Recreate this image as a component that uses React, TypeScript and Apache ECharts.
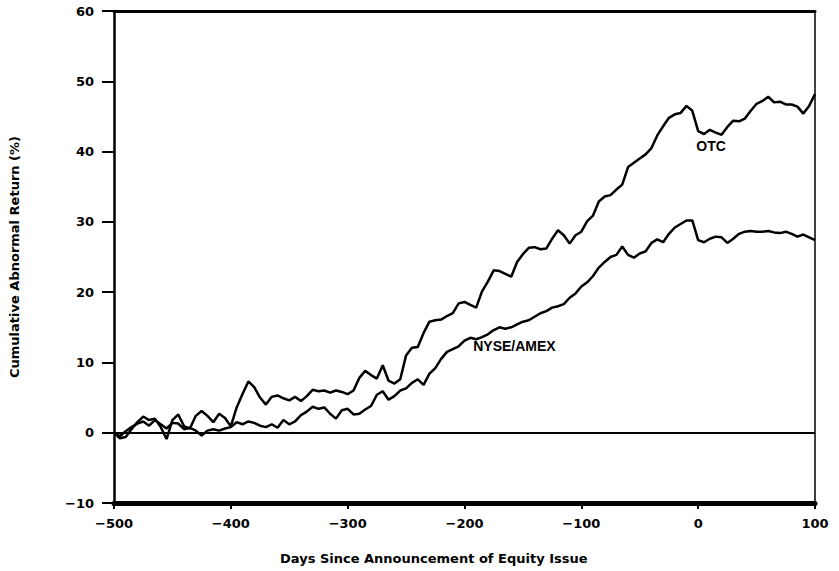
import React, { useEffect, useRef } from "react";
import * as echarts from "echarts";

// Days relative to the announcement (sample points, every 5 days)
const days = [
  -500, -495, -490, -485, -480, -475, -470, -465, -460, -455, -450, -445, -440, -435, -430, -425, -420, -415, -410, -405,
  -400, -395, -390, -385, -380, -375, -370, -365, -360, -355, -350, -345, -340, -335, -330, -325, -320, -315, -310, -305,
  -300, -295, -290, -285, -280, -275, -270, -265, -260, -255, -250, -245, -240, -235, -230, -225, -220, -215, -210, -205,
  -200, -195, -190, -185, -180, -175, -170, -165, -160, -155, -150, -145, -140, -135, -130, -125, -120, -115, -110, -105,
  -100, -95, -90, -85, -80, -75, -70, -65, -60, -55, -50, -45, -40, -35, -30, -25, -20, -15, -10, -5,
  0, 5, 10, 15, 20, 25, 30, 35, 40, 45, 50, 55, 60, 65, 70, 75, 80, 85, 90, 95, 100,
];

// Cumulative abnormal return (%) - OTC
const otc = [
  0.0, -0.8, -0.6, 0.5, 1.5, 2.3, 1.8, 2.0, 0.8, -0.9, 1.8, 2.6, 0.9, 0.6, 2.4, 3.1, 2.4, 1.5, 2.7, 2.1,
  0.9, 3.6, 5.5, 7.3, 6.5, 5.0, 4.0, 5.1, 5.3, 4.9, 4.6, 5.1, 4.5, 5.2, 6.1, 5.9, 6.0, 5.7, 6.0, 5.8,
  5.5, 6.0, 7.8, 8.8, 8.2, 7.7, 9.6, 7.4, 7.0, 7.6, 11.0, 12.1, 12.2, 14.2, 15.8, 16.0, 16.1, 16.6, 17.0, 18.4,
  18.6, 18.2, 17.8, 20.1, 21.5, 23.1, 23.0, 22.6, 22.2, 24.3, 25.4, 26.3, 26.4, 26.1, 26.2, 27.6, 28.8, 28.1, 26.9, 28.1,
  28.6, 30.1, 30.9, 32.9, 33.6, 33.8, 34.6, 35.3, 37.8, 38.4, 39.0, 39.6, 40.5, 42.3, 43.6, 44.8, 45.3, 45.5, 46.5, 45.8,
  42.9, 42.5, 43.1, 42.7, 42.4, 43.5, 44.4, 44.3, 44.7, 45.8, 46.8, 47.2, 47.8, 47.0, 47.1, 46.7, 46.7, 46.4, 45.4, 46.5, 48.2,
];

// Cumulative abnormal return (%) - NYSE/AMEX
const nyseAmex = [
  0.0, -0.5, 0.2, 0.8, 1.3, 1.6, 1.0, 1.8, 1.2, 0.6, 1.4, 1.3, 0.5, 0.7, 0.3, -0.4, 0.3, 0.5, 0.3, 0.6,
  0.8, 1.5, 1.2, 1.6, 1.4, 1.0, 0.8, 1.2, 0.7, 1.8, 1.2, 1.6, 2.5, 3.0, 3.7, 3.4, 3.6, 2.7, 2.0, 3.2,
  3.4, 2.6, 2.7, 3.3, 3.8, 5.4, 5.9, 4.7, 5.2, 6.0, 6.3, 7.1, 7.6, 6.8, 8.4, 9.2, 10.5, 11.5, 11.9, 12.3,
  13.1, 13.5, 13.3, 13.6, 14.0, 14.6, 15.0, 14.8, 15.0, 15.4, 15.8, 16.0, 16.5, 17.0, 17.3, 17.8, 18.0, 18.3, 19.2, 19.8,
  20.8, 21.4, 22.3, 23.5, 24.3, 25.0, 25.3, 26.5, 25.3, 24.9, 25.5, 25.8, 27.0, 27.5, 27.1, 28.3, 29.2, 29.7, 30.2, 30.2,
  27.4, 27.1, 27.6, 27.9, 27.8, 27.0, 27.6, 28.3, 28.6, 28.7, 28.6, 28.6, 28.7, 28.5, 28.4, 28.6, 28.3, 27.9, 28.2, 27.8, 27.4,
];

const xRange = [-500, 100];
const yRange = [-10, 60];
const xTitle = "Days Since Announcement of Equity Issue";
const yTitle = "Cumulative Abnormal Return (%)";

export default function App() {
  const ref = useRef<HTMLDivElement>(null);

  useEffect(() => {
    if (!ref.current) return;
    const chart = echarts.init(ref.current, null, { renderer: "svg" });
    const bold = "DejaVu Sans";
    const minus = (v: number) => String(v).replace("-", "\u2212");
    chart.setOption({
      animation: false,
      backgroundColor: "#ffffff",
      grid: { left: 112, right: 24, top: 11, bottom: 68, containLabel: false },
      xAxis: [
        {
          type: "value",
          min: xRange[0],
          max: xRange[1],
          interval: 100,
          position: "bottom",
          axisLine: { onZero: false, lineStyle: { color: "#000", width: 5 } },
          axisTick: { length: 6, lineStyle: { color: "#000", width: 2 } },
          axisLabel: {
            color: "#000",
            fontFamily: bold,
            fontWeight: "bold",
            fontSize: 13,
            margin: 14,
            formatter: minus,
          },
          splitLine: { show: false },
        },
        {
          type: "value",
          min: xRange[0],
          max: xRange[1],
          position: "top",
          axisLine: { onZero: false, lineStyle: { color: "#000", width: 3 } },
          axisTick: { show: false },
          axisLabel: { show: false },
          splitLine: { show: false },
        },
      ],
      yAxis: [
        {
          type: "value",
          min: yRange[0],
          max: yRange[1],
          interval: 10,
          position: "left",
          name: yTitle,
          nameLocation: "middle",
          nameGap: 93,
          nameTextStyle: { color: "#000", fontFamily: bold, fontWeight: "bold", fontSize: 13 },
          axisLine: { onZero: false, lineStyle: { color: "#000", width: 2.5 } },
          axisTick: { length: 12, lineStyle: { color: "#000", width: 2 } },
          axisLabel: {
            color: "#000",
            fontFamily: bold,
            fontWeight: "bold",
            fontSize: 13,
            margin: 20,
            formatter: minus,
          },
          splitLine: { show: false },
        },
        {
          type: "value",
          min: yRange[0],
          max: yRange[1],
          position: "right",
          axisLine: { onZero: false, lineStyle: { color: "#000", width: 1.5 } },
          axisTick: { show: false },
          axisLabel: { show: false },
          splitLine: { show: false },
        },
      ],
      graphic: [
        {
          type: "text",
          left: 280,
          top: 552,
          style: {
            text: xTitle,
            fill: "#000",
            font: `bold 13px "${bold}"`,
          },
        },
      ],
      series: [
        {
          name: "OTC",
          type: "line",
          xAxisIndex: 0,
          yAxisIndex: 0,
          data: days.map((d, i) => [d, otc[i]]),
          showSymbol: false,
          symbol: "none",
          lineStyle: { color: "#000", width: 2.5 },
          markLine: {
            silent: true,
            symbol: ["none", "none"],
            label: { show: false },
            lineStyle: { color: "#000", width: 2, type: "solid" },
            data: [{ yAxis: 0 }],
          },
          markPoint: {
            symbol: "circle",
            symbolSize: 1,
            itemStyle: { color: "rgba(0,0,0,0)" },
            label: {
              show: true,
              position: "inside",
              color: "#000",
              fontFamily: "Liberation Sans",
              fontWeight: "bold",
              fontSize: 14,
              formatter: "OTC",
            },
            data: [{ coord: [11, 40.8] }],
          },
        },
        {
          name: "NYSE/AMEX",
          type: "line",
          xAxisIndex: 0,
          yAxisIndex: 0,
          data: days.map((d, i) => [d, nyseAmex[i]]),
          showSymbol: false,
          symbol: "none",
          lineStyle: { color: "#000", width: 2.5 },
          markPoint: {
            symbol: "circle",
            symbolSize: 1,
            itemStyle: { color: "rgba(0,0,0,0)" },
            label: {
              show: true,
              position: "right",
              distance: 0,
              color: "#000",
              fontFamily: "Liberation Sans",
              fontWeight: "bold",
              fontSize: 14,
              formatter: "NYSE/AMEX",
            },
            data: [{ coord: [-193, 12.4] }],
          },
        },
      ],
    });
    return () => chart.dispose();
  }, []);

  return (
    <div
      ref={ref}
      style={{ position: "fixed", left: 0, top: 0, width: 839, height: 571, background: "#fff" }}
    />
  );
}
